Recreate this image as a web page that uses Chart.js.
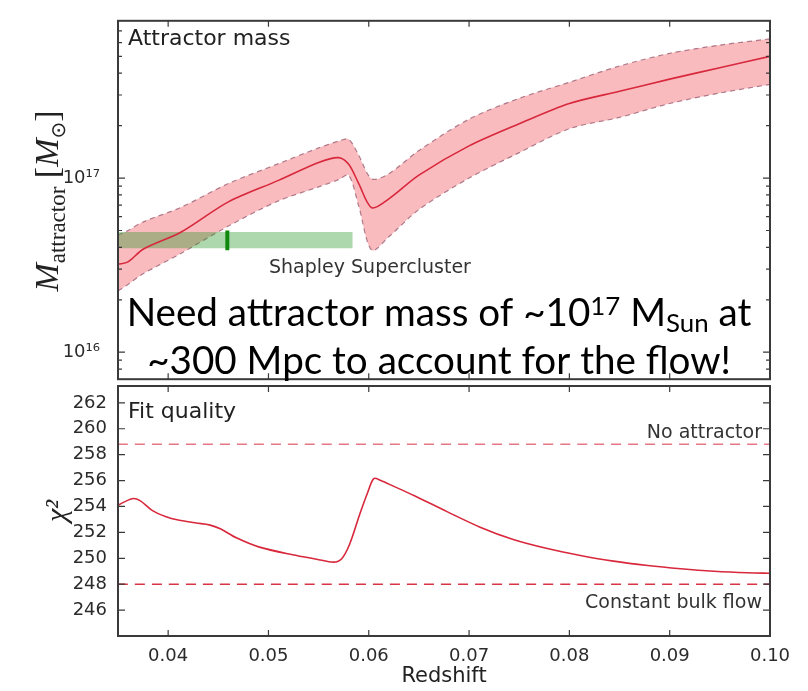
<!DOCTYPE html>
<html>
<head>
<meta charset="utf-8">
<title>Attractor mass and fit quality vs redshift</title>
<script src="https://cdn.jsdelivr.net/npm/chart.js@4.4.1/dist/chart.umd.min.js"></script>
<style>
  html, body { margin: 0; padding: 0; background: #fff; }
  .wrap { position: relative; width: 808px; height: 691px; overflow: hidden; }
  canvas { position: absolute; left: 0; }
  #massChart { top: 0; }
  #chiChart { top: 370px; }
</style>
</head>
<body>
<div class="wrap">
  <canvas id="massChart" width="808" height="400"></canvas>
  <canvas id="chiChart" width="808" height="321"></canvas>
</div>
<script>
// ---- values ----

// top panel: attractor mass (solar masses) with its band
const redshift = [0.035, 0.036, 0.0375, 0.0413, 0.046, 0.051, 0.055, 0.057, 0.058, 0.059, 0.0603, 0.062, 0.065, 0.070, 0.075, 0.080, 0.085, 0.090, 0.095, 0.100];
const massMid  = [3.2e16, 3.3e16, 3.9e16, 4.9e16, 7.3e16, 9.7e16, 1.23e17, 1.31e17, 1.2e17, 9.3e16, 6.75e16, 7.6e16, 1.04e17, 1.53e17, 2.05e17, 2.68e17, 3.15e17, 3.7e17, 4.3e17, 5.0e17];
const massHigh = [4.7e16, 5.0e16, 5.6e16, 6.8e16, 9.3e16, 1.21e17, 1.49e17, 1.63e17, 1.67e17, 1.35e17, 9.9e16, 1.06e17, 1.44e17, 2.18e17, 2.87e17, 3.55e17, 4.4e17, 5.2e17, 5.8e17, 6.3e17];
const massLow  = [2.25e16, 2.45e16, 2.82e16, 3.7e16, 5.3e16, 7.4e16, 8.9e16, 9.8e16, 1.04e17, 6.9e16, 3.85e16, 4.6e16, 6.6e16, 1.0e17, 1.4e17, 1.92e17, 2.23e17, 2.68e17, 3.08e17, 3.45e17];

// Shapley Supercluster box and its marker
const shapleyZ = [0.035, 0.0584];
const shapleyMass = [3.95e16, 4.9e16];
const shapleyMarkerZ = 0.0459;
const shapleyMarkerMass = [3.85e16, 5.0e16];

// bottom panel: fit quality
const chiZ = [0.035, 0.0364, 0.0372, 0.0384, 0.0398, 0.041, 0.0428, 0.0441, 0.0452, 0.0468, 0.0491, 0.0524, 0.0548, 0.0565, 0.0573, 0.0581, 0.0591, 0.0599, 0.0605, 0.0612, 0.0625, 0.0645, 0.0678, 0.0711, 0.0744, 0.0778, 0.0811, 0.0844, 0.0878, 0.0911, 0.0944, 0.0978, 0.100];
const chi2 = [254.1, 254.6, 254.45, 253.7, 253.2, 252.95, 252.72, 252.58, 252.28, 251.58, 250.86, 250.27, 249.93, 249.7, 249.96, 251.1, 253.4, 255.1, 256.15, 256.0, 255.55, 254.85, 253.6, 252.4, 251.45, 250.75, 250.22, 249.78, 249.44, 249.19, 249.0, 248.88, 248.85];
const noAttractorChi2 = 258.8;
const bulkFlowChi2 = 248.0;

// ---- helpers ----
const SUP = { '0': '\u2070', '1': '\u00B9', '2': '\u00B2', '3': '\u00B3', '4': '\u2074', '5': '\u2075', '6': '\u2076', '7': '\u2077', '8': '\u2078', '9': '\u2079' };

function isPow10(v) {
  const l = Math.log10(v);
  return Math.abs(l - Math.round(l)) < 1e-6;
}

function wholeMantissa(v) {
  const e = Math.floor(Math.log10(v) + 1e-9);
  const m = v / Math.pow(10, e);
  return Math.abs(m - Math.round(m)) < 1e-6;
}

function pts(xs, ys) {
  return xs.map((x, i) => ({ x: x, y: ys[i] }));
}

const RED = '#d8283c';
const TEXT = '#2b2b2b';
const TICK_FONT = { family: 'DejaVu Sans', size: 18 };

// frame + inward ticks, matplotlib style
const axesFrame = {
  id: 'axesFrame',
  afterDatasetsDraw(chart) {
    const { ctx, chartArea: a } = chart;
    const xs = chart.scales.x, ys = chart.scales.y;
    const isLog = ys.type === 'logarithmic';
    ctx.save();
    ctx.strokeStyle = '#3a3a3a';
    ctx.lineWidth = 1.2;
    ctx.beginPath();
    xs.ticks.forEach(t => {
      const px = xs.getPixelForValue(t.value);
      if (px < a.left + 2 || px > a.right - 2) return;
      ctx.moveTo(px, a.bottom); ctx.lineTo(px, a.bottom - 6);
      ctx.moveTo(px, a.top); ctx.lineTo(px, a.top + 6);
    });
    ys.ticks.forEach(t => {
      if (isLog && !wholeMantissa(t.value)) return;
      const py = ys.getPixelForValue(t.value);
      if (py < a.top + 2 || py > a.bottom - 2) return;
      const len = (!isLog || isPow10(t.value)) ? 7 : 4;
      ctx.moveTo(a.left, py); ctx.lineTo(a.left + len, py);
      ctx.moveTo(a.right, py); ctx.lineTo(a.right - len, py);
    });
    ctx.stroke();
    ctx.lineWidth = 2;
    ctx.strokeRect(a.left, a.top, a.right - a.left, a.bottom - a.top);
    ctx.restore();
  }
};

// rotated "M_attractor [M_sun]" label
function drawMassTitle(ctx, cx, cy) {
  const serif = '"Liberation Serif", "DejaVu Serif", serif';
  const parts = [
    { t: 'M', f: 'italic 34px ' + serif, dy: 0 },
    { t: 'attractor', f: '23px ' + serif, dy: 7 },
    { t: ' [', f: '34px ' + serif, dy: 0 },
    { t: 'M', f: 'italic 34px ' + serif, dy: 0 },
    { t: '\u2299', f: '20px "DejaVu Sans", ' + serif, dy: 7 },
    { t: ']', f: '34px ' + serif, dy: 0 }
  ];
  let total = 0;
  parts.forEach(p => { ctx.font = p.f; p.w = ctx.measureText(p.t).width; total += p.w; });
  ctx.save();
  ctx.translate(cx, cy);
  ctx.rotate(-Math.PI / 2);
  ctx.fillStyle = '#222';
  ctx.textBaseline = 'alphabetic';
  ctx.textAlign = 'left';
  let x = -total / 2;
  parts.forEach(p => { ctx.font = p.f; ctx.fillText(p.t, x, p.dy); x += p.w; });
  ctx.restore();
}

// the big slide annotation over the top panel
function drawNote(ctx, cx) {
  const fam = 'Lato, "Open Sans", sans-serif';
  const line1 = [
    { t: 'Need attractor mass of ~10', k: 1, dy: 0 },
    { t: '17', k: 0.67, dy: -0.28 },
    { t: ' M', k: 1, dy: 0 },
    { t: 'Sun', k: 0.67, dy: 0.17 },
    { t: ' at', k: 1, dy: 0 }
  ];
  const line2 = [{ t: '~300 Mpc to account for the flow!', k: 1, dy: 0 }];
  const width = (line, s) => line.reduce((acc, p) => {
    ctx.font = (s * p.k) + 'px ' + fam;
    return acc + ctx.measureText(p.t).width;
  }, 0);
  const size = 36 * 625 / width(line1, 36);
  const put = (line, base) => {
    let x = cx - width(line, size) / 2;
    line.forEach(p => {
      ctx.font = (size * p.k) + 'px ' + fam;
      ctx.fillText(p.t, x, base + p.dy * size);
      x += ctx.measureText(p.t).width;
    });
  };
  ctx.save();
  ctx.fillStyle = '#000';
  ctx.textAlign = 'left';
  ctx.textBaseline = 'alphabetic';
  put(line1, 325.7);
  put(line2, 374.3);
  ctx.restore();
}

const massLabels = {
  id: 'massLabels',
  afterDraw(chart) {
    const { ctx, chartArea: a } = chart;
    ctx.save();
    ctx.fillStyle = '#222';
    ctx.textBaseline = 'alphabetic';
    ctx.textAlign = 'left';
    ctx.font = '22px "DejaVu Sans"';
    ctx.fillText('Attractor mass', a.left + 10, a.top + 24);
    ctx.fillStyle = '#333';
    ctx.font = '19px "DejaVu Sans"';
    ctx.fillText('Shapley Supercluster', a.left + 151, 272.5);
    ctx.restore();
    drawMassTitle(ctx, 58, (a.top + a.bottom) / 2 + 1);
    drawNote(ctx, 439);
  }
};

const chiLabels = {
  id: 'chiLabels',
  afterDraw(chart) {
    const { ctx, chartArea: a } = chart;
    const ys = chart.scales.y;
    ctx.save();
    ctx.textBaseline = 'alphabetic';
    ctx.fillStyle = '#222';
    ctx.textAlign = 'left';
    ctx.font = '22px "DejaVu Sans"';
    ctx.fillText('Fit quality', a.left + 10, a.top + 31.7);
    ctx.fillStyle = '#333';
    ctx.textAlign = 'right';
    ctx.font = '19px "DejaVu Sans"';
    ctx.fillText('No attractor', a.right - 8, ys.getPixelForValue(noAttractorChi2) - 6);
    ctx.fillText('Constant bulk flow', a.right - 8, ys.getPixelForValue(bulkFlowChi2) + 24);
    ctx.restore();
  }
};

// ---- top panel ----
new Chart(document.getElementById('massChart'), {
  type: 'line',
  data: {
    datasets: [
      {
        data: pts(redshift, massLow),
        borderColor: 'rgba(150,90,110,0.75)', borderWidth: 1.2, borderDash: [5, 4],
        fill: false, order: 3
      },
      {
        data: pts(redshift, massHigh),
        borderColor: 'rgba(150,90,110,0.75)', borderWidth: 1.2, borderDash: [5, 4],
        backgroundColor: 'rgba(245,120,128,0.5)', fill: '-1', order: 3
      },
      {
        data: pts(shapleyZ, [shapleyMass[1], shapleyMass[1]]),
        borderWidth: 0, fill: false, order: 2, tension: 0
      },
      {
        data: pts(shapleyZ, [shapleyMass[0], shapleyMass[0]]),
        borderWidth: 0, backgroundColor: 'rgba(40,150,40,0.38)', fill: '-1', order: 2, tension: 0
      },
      {
        data: pts([shapleyMarkerZ, shapleyMarkerZ], shapleyMarkerMass),
        borderColor: '#0f8a0f', borderWidth: 4, borderCapStyle: 'butt', fill: false, order: 1, tension: 0
      },
      {
        data: pts(redshift, massMid),
        borderColor: RED, borderWidth: 1.6, fill: false, order: 0
      }
    ]
  },
  options: {
    responsive: false,
    animation: false,
    layout: { padding: { top: 13, right: 38, bottom: 14, left: 0 } },
    elements: { point: { radius: 0 }, line: { tension: 0.3 } },
    plugins: { legend: { display: false }, tooltip: { enabled: false } },
    scales: {
      x: {
        type: 'linear', min: 0.035, max: 0.1,
        grid: { display: false }, border: { display: false },
        ticks: { display: false, stepSize: 0.01, includeBounds: false },
        afterFit(s) { s.height = 0; }
      },
      y: {
        type: 'logarithmic', min: 7e15, max: 8e17,
        grid: { display: false }, border: { display: false },
        ticks: {
          autoSkip: false, padding: 10, color: TEXT, font: TICK_FONT,
          callback: v => isPow10(v) ? '10' + String(Math.round(Math.log10(v))).split('').map(d => SUP[d]).join('') : ''
        },
        afterFit(s) { s.width = 118; }
      }
    }
  },
  plugins: [axesFrame, massLabels]
});

// ---- bottom panel ----
new Chart(document.getElementById('chiChart'), {
  type: 'line',
  data: {
    datasets: [
      {
        data: pts(chiZ, chi2),
        borderColor: RED, borderWidth: 1.6, fill: false, order: 0
      },
      {
        data: pts([0.035, 0.1], [noAttractorChi2, noAttractorChi2]),
        borderColor: 'rgba(220,60,80,0.7)', borderWidth: 1.6, borderDash: [10, 7], fill: false, order: 1
      },
      {
        data: pts([0.035, 0.1], [bulkFlowChi2, bulkFlowChi2]),
        borderColor: 'rgba(215,40,60,0.95)', borderWidth: 1.6, borderDash: [10, 7], fill: false, order: 1
      }
    ]
  },
  options: {
    responsive: false,
    animation: false,
    layout: { padding: { top: 16, right: 38, bottom: 0, left: 0 } },
    elements: { point: { radius: 0 }, line: { tension: 0.3 } },
    plugins: { legend: { display: false }, tooltip: { enabled: false } },
    scales: {
      x: {
        type: 'linear', min: 0.035, max: 0.1,
        grid: { display: false }, border: { display: false },
        ticks: {
          stepSize: 0.01, includeBounds: false, autoSkip: false, maxRotation: 0,
          padding: 2, color: TEXT, font: TICK_FONT,
          callback: v => v.toFixed(2)
        },
        title: {
          display: true, text: 'Redshift', color: '#222',
          font: { family: 'DejaVu Sans', size: 21 }, padding: { top: 0, bottom: 2 }
        },
        afterFit(s) { s.height = 55; }
      },
      y: {
        type: 'linear', min: 244, max: 263.3,
        grid: { display: false }, border: { display: false },
        ticks: {
          stepSize: 2, includeBounds: false, autoSkip: false,
          padding: 3, color: TEXT, font: TICK_FONT,
          callback: v => v === 244 ? '' : String(v)
        },
        title: {
          display: true, text: '\u03C7\u00B2', color: '#222',
          font: { family: 'Liberation Serif', size: 30, style: 'italic' }, padding: { top: 40, bottom: 0 }
        },
        afterFit(s) { s.width = 118; }
      }
    }
  },
  plugins: [axesFrame, chiLabels]
});
</script>
</body>
</html>
